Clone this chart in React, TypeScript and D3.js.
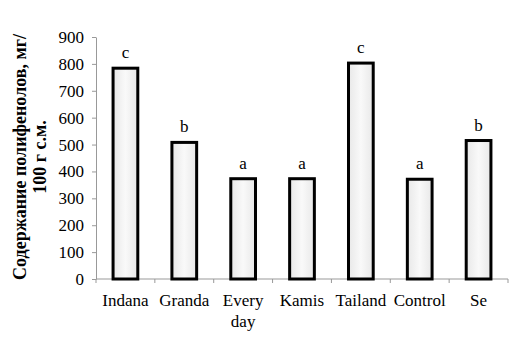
import React, { useRef, useEffect } from 'react';
import * as d3 from 'd3';

const categories = ['Indana', 'Granda', 'Every day', 'Kamis', 'Tailand', 'Control', 'Se'];
const values = [784, 508, 373, 373, 803, 371, 515];
const letters = ['c', 'b', 'a', 'a', 'c', 'a', 'b'];
const yTicks = [0, 100, 200, 300, 400, 500, 600, 700, 800, 900];

const App = () => {
  const svgRef = useRef(null);

  useEffect(() => {
    const svg = d3.select(svgRef.current);
    svg.selectAll('*').remove();

    const margin = { top: 37, right: 15, bottom: 61, left: 96 };
    const W = 523, H = 340;
    const width = W - margin.left - margin.right;
    const height = H - margin.top - margin.bottom;
    const font = 'Liberation Serif, Times New Roman, DejaVu Serif, serif';

    const defs = svg.append('defs');
    const grad = defs.append('linearGradient').attr('id', 'barFill').attr('x1', 0).attr('x2', 1);
    grad.append('stop').attr('offset', '0%').attr('stop-color', '#e8e8e8');
    grad.append('stop').attr('offset', '50%').attr('stop-color', '#f9f9f9');
    grad.append('stop').attr('offset', '100%').attr('stop-color', '#e8e8e8');

    const g = svg.append('g').attr('transform', `translate(${margin.left},${margin.top})`);

    const x = d3.scaleBand().domain(categories).range([0, width]).paddingInner(0.58).paddingOuter(0.29);
    const y = d3.scaleLinear().domain([0, 900]).range([height, 0]);

    // y axis
    const yAxis = g.append('g').call(d3.axisLeft(y).tickValues(yTicks).tickSize(4).tickSizeOuter(0).tickPadding(8));
    yAxis.attr('font-family', null).attr('font-size', null);
    yAxis.select('.domain').attr('stroke', '#999');
    yAxis.selectAll('.tick line').attr('stroke', '#999');
    yAxis.selectAll('text').style('font-family', font).style('font-size', '17px').attr('fill', '#000');

    // x axis with ticks at category boundaries
    const xg = g.append('g').attr('transform', `translate(0,${height})`);
    xg.append('line').attr('x1', 0).attr('x2', width).attr('stroke', '#999');
    const step = x.step();
    d3.range(categories.length + 1).forEach((i) => {
      xg.append('line')
        .attr('x1', i * step).attr('x2', i * step)
        .attr('y1', 0).attr('y2', 4)
        .attr('stroke', '#999');
    });
    categories.forEach((c) => {
      const cx = x(c) + x.bandwidth() / 2;
      const t = xg.append('text')
        .attr('x', cx).attr('y', 27)
        .attr('text-anchor', 'middle')
        .style('font-family', font).style('font-size', '17px').attr('fill', '#000');
      c.split(' ').forEach((w, i) => {
        t.append('tspan').attr('x', cx).attr('dy', i === 0 ? 0 : 21).text(w);
      });
    });

    // bars
    g.selectAll('.bar')
      .data(values)
      .enter()
      .append('rect')
      .attr('x', (d, i) => x(categories[i]))
      .attr('y', (d) => y(d))
      .attr('width', x.bandwidth())
      .attr('height', (d) => height - y(d))
      .attr('fill', 'url(#barFill)')
      .attr('stroke', '#000')
      .attr('stroke-width', 3);

    g.selectAll('.lbl')
      .data(values)
      .enter()
      .append('text')
      .attr('x', (d, i) => x(categories[i]) + x.bandwidth() / 2)
      .attr('y', (d) => y(d) - 10)
      .attr('text-anchor', 'middle')
      .style('font-family', font).style('font-size', '17px').attr('fill', '#000')
      .text((d, i) => letters[i]);

    // y title
    const title = svg.append('text')
      .attr('transform', 'translate(0,157) rotate(-90)')
      .attr('text-anchor', 'middle')
      .style('font-family', font).style('font-size', '18px').style('font-weight', 'bold').attr('fill', '#000');
    title.append('tspan').attr('x', 0).attr('y', 26).text('Содержание полифенолов, мг/');
    title.append('tspan').attr('x', 0).attr('y', 46).text('100 г с.м.');
  }, []);

  return (
    <svg ref={svgRef} width={523} height={340} style={{ position: 'absolute', left: 0, top: 0 }}></svg>
  );
};

export default App;
